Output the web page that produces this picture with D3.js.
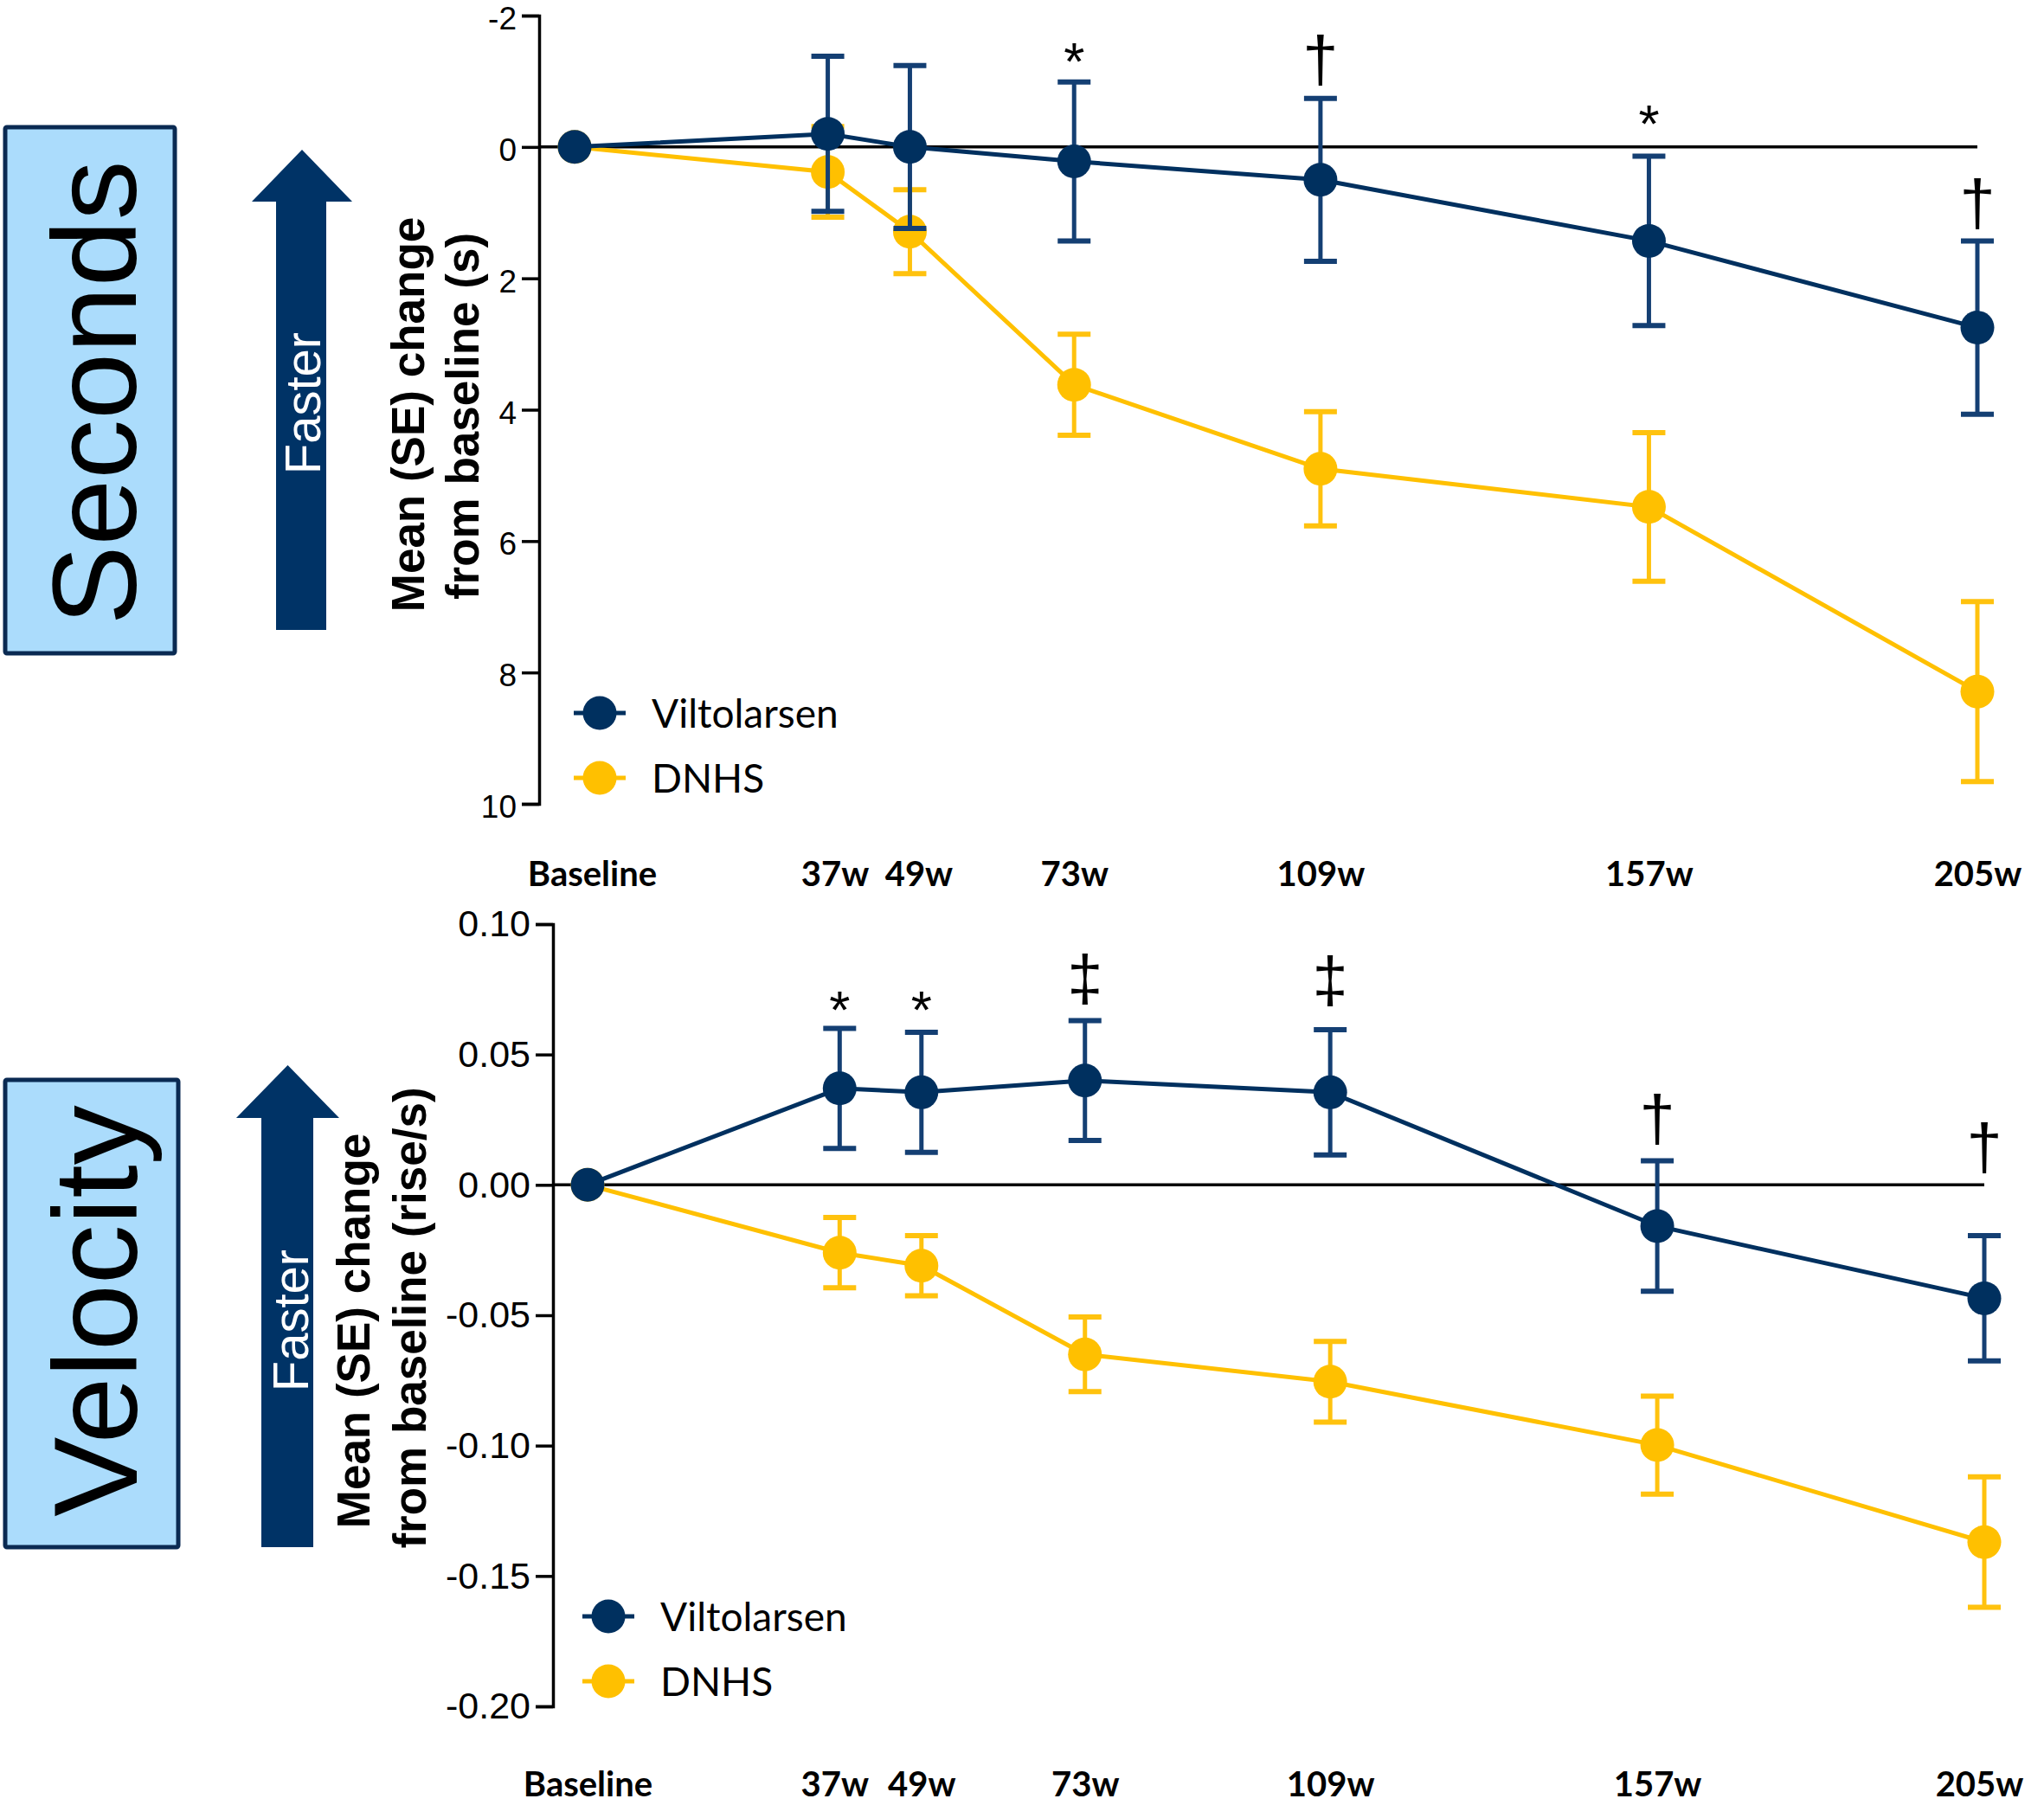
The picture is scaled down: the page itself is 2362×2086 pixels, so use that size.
<!DOCTYPE html>
<html>
<head>
<meta charset="utf-8">
<script src="https://cdn.jsdelivr.net/npm/d3@7"></script>
<style>
  body { margin: 0; background: #fff; }
  svg { display: block; }
</style>
</head>
<body>
<script>
// ---------- DATA ----------
const weeks = [0, 37, 49, 73, 109, 157, 205];
const weekLabels = ["Baseline", "37w", "49w", "73w", "109w", "157w", "205w"];
const seriesNames = ["Viltolarsen", "DNHS"];

// Seconds panel (mean change from baseline, s; positive = slower)
const secVilt   = [0, -0.20, 0.00, 0.22, 0.50, 1.43, 2.75];
const secViltSE = [0, 1.18, 1.24, 1.21, 1.24, 1.29, 1.32];
const secDnhs   = [0, 0.38, 1.29, 3.62, 4.90, 5.48, 8.29];
const secDnhsSE = [0, 0.69, 0.64, 0.77, 0.87, 1.13, 1.37];
const secTicks  = [-2, 0, 2, 4, 6, 8, 10];
const secMarkWeeks   = [73, 109, 157, 205];
const secMarkSymbols = ["*", "†", "*", "†"];
const secMarkValues  = [-1.43, -1.29, -0.48, 0.89];

// Velocity panel (mean change from baseline, rise/s)
const velVilt   = [0, 0.037, 0.0355, 0.040, 0.0355, -0.0158, -0.0435];
const velViltSE = [0, 0.023, 0.023, 0.023, 0.024, 0.025, 0.024];
const velDnhs   = [0, -0.026, -0.031, -0.065, -0.0755, -0.0998, -0.137];
const velDnhsSE = [0, 0.0135, 0.0115, 0.0143, 0.0155, 0.0188, 0.025];
const velTicks  = [0.10, 0.05, 0.00, -0.05, -0.10, -0.15, -0.20];
const velMarkWeeks   = [37, 49, 73, 109, 157, 205];
const velMarkSymbols = ["*", "*", "‡", "‡", "†", "†"];
const velMarkValues  = [0.0705, 0.0705, 0.078, 0.0775, 0.0245, 0.0135];

// ---------- STYLE ----------
const NAVY = "#00305f", NAVY_BAR = "#143f73", GOLD = "#ffc000", GOLD_BAR = "#ffc20e";
const BOX_FILL = "#abdcfc", BOX_STROKE = "#0a2a52", ARROW = "#003366";

const W = 2362, H = 2086;
const svg = d3.select("body").append("svg").attr("width", W).attr("height", H)
  .style("background", "#fff");

function panel(cfg) {
  const g = svg.append("g");
  const x = d3.scaleLinear().domain([0, 205]).range(cfg.xRange);
  const y = d3.scaleLinear().domain(cfg.yDomain).range(cfg.yRange);

  // side box
  g.append("rect").attr("x", cfg.box[0]).attr("y", cfg.box[1])
    .attr("width", cfg.box[2]).attr("height", cfg.box[3])
    .attr("fill", BOX_FILL).attr("stroke", BOX_STROKE).attr("stroke-width", 5).attr("rx", 2);
  g.append("text").attr("transform", `translate(${cfg.boxText[0]},${cfg.boxText[1]}) rotate(-90)`)
    .attr("text-anchor", "middle").attr("font-family", "Liberation Sans, Arial, sans-serif")
    .attr("font-size", 138).attr("fill", "#000").text(cfg.title);

  // arrow
  const a = cfg.arrow; // [shaftL, shaftR, headL, headR, tipY, baseY, bottomY]
  g.append("path").attr("d",
    `M${a[0]},${a[6]} L${a[0]},${a[5]} L${a[2]},${a[5]} L${(a[2]+a[3])/2},${a[4]} L${a[3]},${a[5]} L${a[1]},${a[5]} L${a[1]},${a[6]} Z`)
    .attr("fill", ARROW);
  g.append("text").attr("transform", `translate(${cfg.faster[0]},${cfg.faster[1]}) rotate(-90)`)
    .attr("text-anchor", "middle").attr("font-family", "Liberation Sans, Arial, sans-serif")
    .attr("font-size", 58).attr("fill", "#fff").text("Faster");

  // y-axis title
  cfg.yTitle.forEach((t, i) => {
    g.append("text").attr("transform", `translate(${cfg.yTitlePos[i][0]},${cfg.yTitlePos[i][1]}) rotate(-90)`)
      .attr("text-anchor", "middle").attr("font-family", "Liberation Sans, Arial, sans-serif")
      .attr("font-weight", "bold").attr("font-size", 53).attr("fill", "#000").text(t);
  });

  // y axis
  const yAxis = d3.axisLeft(y).tickValues(cfg.ticks).tickSize(20).tickPadding(6).tickFormat(cfg.fmt);
  const ya = g.append("g").attr("transform", `translate(${cfg.axisX},0)`).call(yAxis);
  ya.select(".domain").attr("stroke", "#000").attr("stroke-width", 3.5);
  ya.selectAll(".tick line").attr("stroke", "#000").attr("stroke-width", 3.5);
  ya.selectAll(".tick text").attr("font-family", "Liberation Sans, Arial, sans-serif")
    .attr("font-size", cfg.tickFont).attr("fill", "#000").attr("dy", cfg.tickDy);

  // x labels
  const xAxis = d3.axisBottom(x).tickValues(weeks).tickSize(0).tickPadding(0)
    .tickFormat((d, i) => weekLabels[i]);
  const xa = g.append("g").attr("transform", `translate(0,${cfg.xLabelY})`).call(xAxis);
  xa.select(".domain").remove();
  xa.selectAll(".tick text").attr("font-family", "Lato, Calibri, sans-serif").attr("font-weight", "bold")
    .attr("font-size", 40).attr("fill", "#000").attr("y", 0).attr("dy", 0)
    .attr("dx", (d, i) => cfg.labelShift[i]);

  // zero line
  g.append("line").attr("x1", cfg.axisX).attr("x2", x(205)).attr("y1", y(0)).attr("y2", y(0))
    .attr("stroke", "#000").attr("stroke-width", 3.5);

  const line = d3.line().x((d, i) => x(weeks[i])).y(d => y(d));
  const series = [
    {vals: cfg.dnhs, se: cfg.dnhsSE, c: GOLD, cb: GOLD_BAR},
    {vals: cfg.vilt, se: cfg.viltSE, c: NAVY, cb: NAVY_BAR}
  ];
  series.forEach(s => {
    const sg = g.append("g");
    sg.append("path").datum(s.vals).attr("d", line).attr("fill", "none")
      .attr("stroke", s.c).attr("stroke-width", 5);
    const eb = sg.selectAll("g.eb").data(s.vals.map((v, i) => ({v, e: s.se[i], w: weeks[i]})).filter(d => d.e > 0))
      .join("g");
    eb.append("line").attr("x1", d => x(d.w)).attr("x2", d => x(d.w))
      .attr("y1", d => y(d.v - d.e)).attr("y2", d => y(d.v + d.e))
      .attr("stroke", s.cb).attr("stroke-width", 5);
    [-1, 1].forEach(sign => {
      eb.append("line").attr("x1", d => x(d.w) - 19).attr("x2", d => x(d.w) + 19)
        .attr("y1", d => y(d.v + sign * d.e)).attr("y2", d => y(d.v + sign * d.e))
        .attr("stroke", s.cb).attr("stroke-width", 6);
    });
    sg.selectAll("circle").data(s.vals).join("circle")
      .attr("cx", (d, i) => x(weeks[i])).attr("cy", d => y(d)).attr("r", 19.5).attr("fill", s.c);
  });

  // legend
  const leg = [{n: seriesNames[0], c: NAVY}, {n: seriesNames[1], c: GOLD}];
  leg.forEach((l, i) => {
    const ly = cfg.legend[1] + i * cfg.legend[2];
    g.append("line").attr("x1", cfg.legend[0] - 30).attr("x2", cfg.legend[0] + 30)
      .attr("y1", ly).attr("y2", ly).attr("stroke", l.c).attr("stroke-width", 5);
    g.append("circle").attr("cx", cfg.legend[0]).attr("cy", ly).attr("r", 19.5).attr("fill", l.c);
    g.append("text").attr("x", cfg.legend[0] + 60).attr("y", ly).attr("dy", "0.36em")
      .attr("font-family", "Lato, Calibri, sans-serif").attr("font-size", 46).attr("fill", "#000").text(l.n);
  });

  // significance marks
  cfg.markWeeks.forEach((w, i) => {
    const sym = cfg.markSymbols[i];
    const star = sym === "*";
    g.append("text").attr("x", x(w)).attr("y", y(cfg.markValues[i]))
      .attr("dy", star ? "0.5em" : "0.3em")
      .attr("text-anchor", "middle").attr("font-family", "Liberation Sans, Arial, sans-serif")
      .attr("font-size", star ? 62 : 74).attr("fill", "#000").text(sym);
  });
}

panel({
  title: "Seconds", box: [6, 147, 196, 608], boxText: [157, 454],
  arrow: [319, 377, 291, 407, 173, 233, 728], faster: [370, 466],
  yTitle: ["Mean (SE) change", "from baseline (s)"], yTitlePos: [[490, 479], [553, 481]],
  xRange: [664, 2285], yDomain: [-2, 10], yRange: [18, 929], axisX: 623,
  ticks: secTicks, fmt: d => String(d), tickFont: 37, tickDy: "0.42em", xLabelY: 1024,
  labelShift: [20, 8, 10, 0, 0, 0, 0],
  vilt: secVilt, viltSE: secViltSE, dnhs: secDnhs, dnhsSE: secDnhsSE,
  legend: [693, 824, 75],
  markWeeks: secMarkWeeks, markSymbols: secMarkSymbols, markValues: secMarkValues
});

panel({
  title: "Velocity", box: [6, 1248, 200, 540], boxText: [158, 1515],
  arrow: [302, 362, 273, 392, 1231, 1292, 1788], faster: [356, 1526],
  yTitle: ["Mean (SE) change", "from baseline (rise/s)"], yTitlePos: [[427, 1538], [492, 1523]],
  xRange: [679, 2293], yDomain: [0.10, -0.20], yRange: [1068, 1972], axisX: 639,
  ticks: velTicks, fmt: d => (d < -1e-9 ? "-" : "") + Math.abs(d).toFixed(2), tickFont: 43, tickDy: "0.32em", xLabelY: 2076,
  labelShift: [0, -6, 0, 0, 0, 0, -6],
  vilt: velVilt, viltSE: velViltSE, dnhs: velDnhs, dnhsSE: velDnhsSE,
  legend: [703, 1868, 75],
  markWeeks: velMarkWeeks, markSymbols: velMarkSymbols, markValues: velMarkValues
});
</script>
</body>
</html>
